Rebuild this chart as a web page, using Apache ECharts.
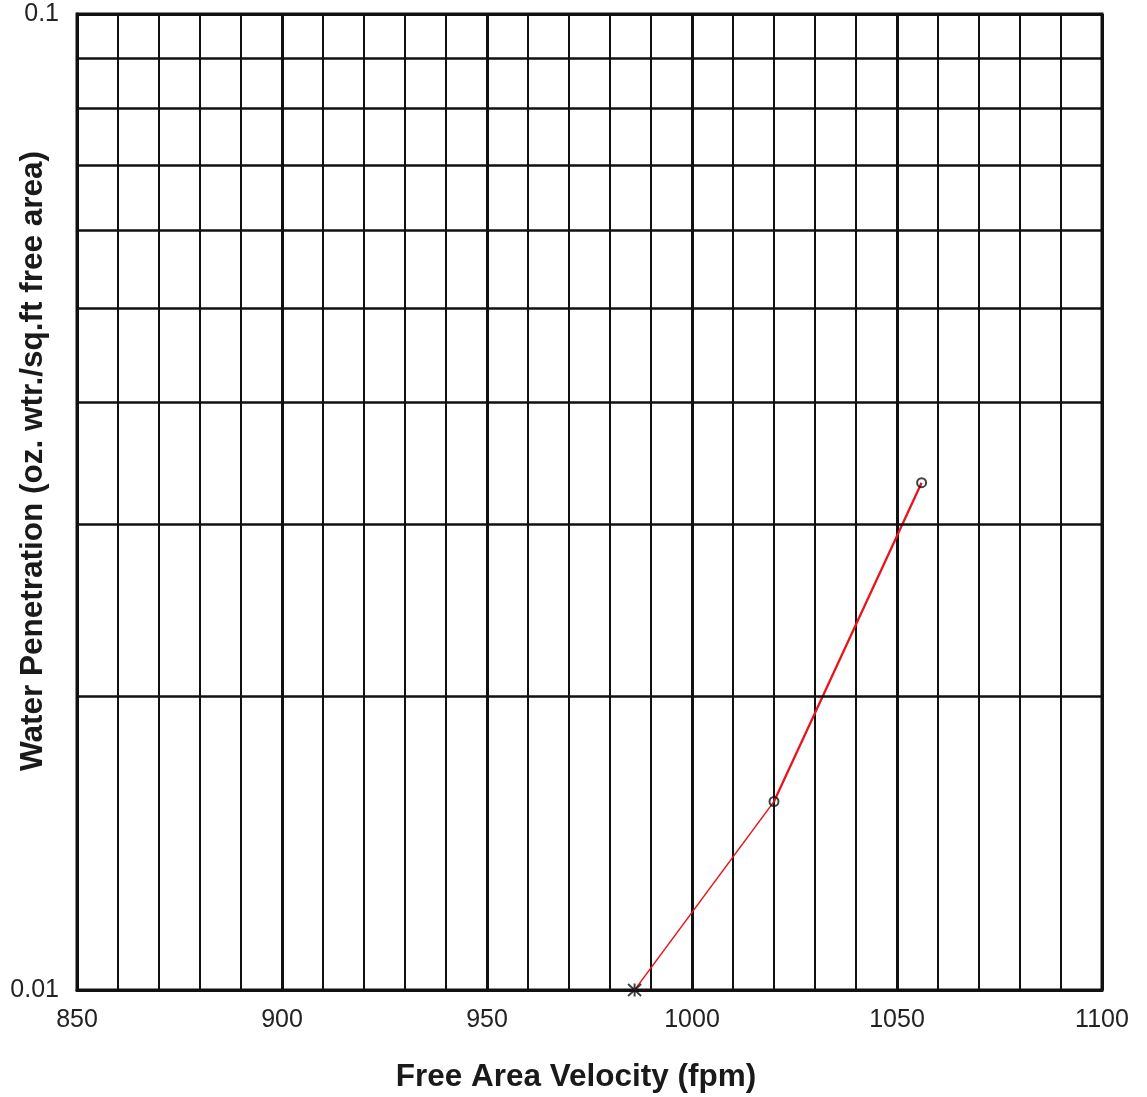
<!DOCTYPE html>
<html>
<head>
<meta charset="utf-8">
<script src="https://cdn.jsdelivr.net/npm/echarts@6/dist/echarts.min.js"></script>
<style>
  html, body { margin: 0; padding: 0; background: #fff; }
  #chart { width: 1147px; height: 1097px; }
</style>
</head>
<body>
<div id="chart"></div>
<script>
  // measured points (fpm, oz/sq.ft)
  const velocity = [986, 1020, 1056];
  const penetration = [0.01, 0.0156, 0.0331];
  // log grid lines between the decades
  const yGridValues = [0.02, 0.03, 0.04, 0.05, 0.06, 0.07, 0.08, 0.09];
  const xRange = [850, 1100];
  const yRange = [0.01, 0.1];

  const font = '"Liberation Sans", Arial, Helvetica, sans-serif';
  const star = 'path://M-1,-1L1,1M1,-1L-1,1M0,-1.1L0,1.1';

  const chart = echarts.init(document.getElementById('chart'));

  const pts = velocity.map((v, i) => [v, penetration[i]]);

  chart.setOption({
    animation: false,
    grid: {
      left: 77, right: 45, top: 14, bottom: 107,
      show: true, borderColor: '#111', borderWidth: 3
    },
    xAxis: {
      type: 'value',
      min: xRange[0], max: xRange[1], interval: 50,
      axisLine: { show: true, lineStyle: { color: '#111', width: 3 } },
      axisTick: { show: false },
      axisLabel: {
        fontFamily: font, fontSize: 25, color: '#222', margin: 18,
        formatter: v => String(v)
      },
      splitLine: { show: true, lineStyle: { color: '#111', width: 3 } },
      minorTick: { show: false, splitNumber: 5 },
      minorSplitLine: { show: true, lineStyle: { color: '#111', width: 2 } }
    },
    yAxis: {
      type: 'log', logBase: 10,
      min: yRange[0], max: yRange[1],
      axisLine: { show: true, lineStyle: { color: '#111', width: 3 } },
      axisTick: { show: false },
      axisLabel: {
        fontFamily: font, fontSize: 25, color: '#222', margin: 18,
        verticalAlign: 'middle', padding: [4, 0, 0, 0],
        formatter: v => String(Number(v.toPrecision(3)))
      },
      splitLine: { show: true, lineStyle: { color: '#111', width: 3 } }
    },
    graphic: [
      {
        type: 'text', x: 576, y: 1077,
        style: {
          text: 'Free Area Velocity (fpm)', font: 'bold 31.5px ' + font,
          fill: '#1a1a1a', textAlign: 'center', textVerticalAlign: 'middle'
        }
      },
      {
        type: 'text', x: 33, y: 461, rotation: Math.PI / 2,
        style: {
          text: 'Water Penetration (oz. wtr./sq.ft free area)', font: 'bold 31.5px ' + font,
          fill: '#1a1a1a', textAlign: 'center', textVerticalAlign: 'middle'
        }
      }
    ],
    series: [
      {
        type: 'line', silent: true, data: [],
        markLine: {
          silent: true, symbol: 'none', label: { show: false },
          lineStyle: { color: '#111', width: 2.5, type: 'solid' },
          data: yGridValues.map(v => ({ yAxis: v }))
        }
      },
      {
        type: 'line', data: pts.slice(0, 2), showSymbol: false, clip: false,
        lineStyle: { color: '#e8141c', width: 1.3 }
      },
      {
        type: 'line', data: pts.slice(1), showSymbol: false, clip: false,
        lineStyle: { color: '#e8141c', width: 2.3 }
      },
      {
        type: 'scatter', clip: false, z: 5,
        data: pts.map((p, i) => i === 0
          ? { value: p, symbol: star, symbolSize: 13,
              itemStyle: { color: 'none', borderColor: '#111', borderWidth: 2 } }
          : { value: p, symbol: 'circle', symbolSize: 9,
              itemStyle: { color: 'rgba(255,255,255,0)', borderColor: '#111', borderWidth: 2 } })
      }
    ]
  });
</script>
</body>
</html>
